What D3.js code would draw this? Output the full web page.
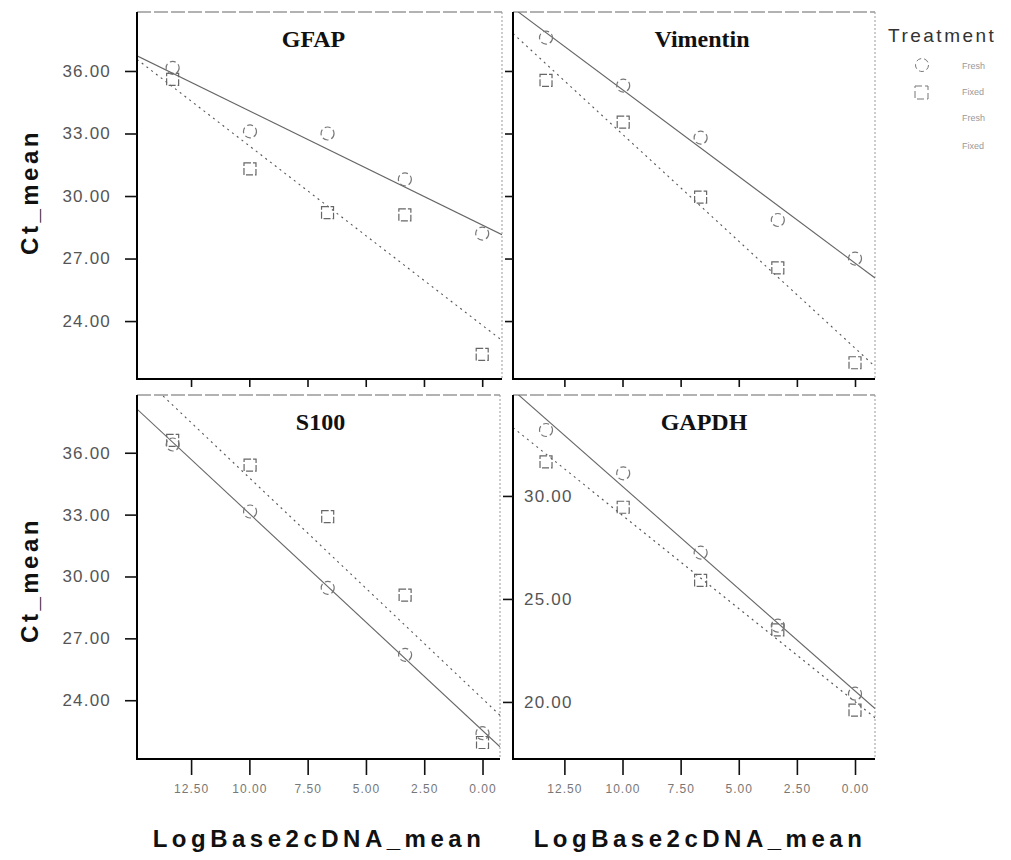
<!DOCTYPE html>
<html>
<head>
<meta charset="utf-8">
<script src="https://cdn.jsdelivr.net/npm/d3@7"></script>
<style>
  body { margin: 0; background: #fff; }
  text { font-family: "Liberation Sans", Arial, sans-serif; }
</style>
</head>
<body>
<svg width="1011" height="860"></svg>
<script>
// chart values
const genes = ["GFAP", "Vimentin", "S100", "GAPDH"];
const legendLabels = ["Fresh", "Fixed", "Fresh", "Fixed"];
const cdna = [13.29, 9.97, 6.64, 3.32, 0.00];          // LogBase2cDNA_mean
const xTicks = [12.5, 10, 7.5, 5, 2.5, 0];
const yTicksCt = [24, 27, 30, 33, 36];
const yTicksGapdh = [20, 25, 30];

// Ct_mean, circles (treatment 1) and squares (treatment 2)
const gfapA = [36.15, 33.1, 33.0, 30.8, 28.2];
const gfapB = [35.6, 31.3, 29.2, 29.1, 22.4];
const vimA = [37.6, 35.3, 32.8, 28.85, 27.0];
const vimB = [35.55, 33.55, 29.95, 26.55, 22.0];
const s100A = [36.4, 33.15, 29.45, 26.2, 22.4];
const s100B = [36.6, 35.4, 32.9, 29.1, 21.95];
const gapdhA = [33.2, 31.1, 27.25, 23.7, 20.4];
const gapdhB = [31.65, 29.45, 25.9, 23.5, 19.6];

const svg = d3.select("svg");

// panel layout
const panels = [
  { gene: genes[0], a: gfapA, b: gfapB, x0: 137, x1: 502, y0: 12, y1: 379,
    xd: [14.82, -0.85], yd: [21.22, 38.83], yt: yTicksCt, yMode: "left", xLabels: false, tdx: -6 },
  { gene: genes[1], a: vimA, b: vimB, x0: 513, x1: 875, y0: 12, y1: 379,
    xd: [14.71, -0.86], yd: [21.22, 38.83], yt: yTicksCt, yMode: "none", xLabels: false, tdx: 8 },
  { gene: genes[2], a: s100A, b: s100B, x0: 137, x1: 500, y0: 395, y1: 759,
    xd: [14.82, -0.75], yd: [21.15, 38.8], yt: yTicksCt, yMode: "left", xLabels: true, tdx: 2 },
  { gene: genes[3], a: gapdhA, b: gapdhB, x0: 513, x1: 875, y0: 395, y1: 759,
    xd: [14.71, -0.86], yd: [17.23, 34.9], yt: yTicksGapdh, yMode: "inside", xLabels: true, tdx: 10 }
];

// least squares fit
function fit(xs, ys) {
  const mx = d3.mean(xs), my = d3.mean(ys);
  const sxy = d3.sum(xs, (x, i) => (x - mx) * (ys[i] - my));
  const sxx = d3.sum(xs, x => (x - mx) * (x - mx));
  const slope = sxy / sxx;
  return x => my + slope * (x - mx);
}

panels.forEach((p, k) => {
  const x = d3.scaleLinear().domain(p.xd).range([p.x0, p.x1]);
  const y = d3.scaleLinear().domain(p.yd).range([p.y1, p.y0]);
  const g = svg.append("g");

  // clip for fit lines
  const clipId = "clip" + k;
  svg.append("clipPath").attr("id", clipId)
    .append("rect").attr("x", p.x0).attr("y", p.y0)
    .attr("width", p.x1 - p.x0).attr("height", p.y1 - p.y0);

  // top and right frame
  g.append("line").attr("x1", p.x0).attr("x2", p.x1).attr("y1", p.y0).attr("y2", p.y0)
    .attr("stroke", "#666").attr("stroke-width", 1.2).attr("stroke-dasharray", "14,3");
  g.append("line").attr("x1", p.x1).attr("x2", p.x1).attr("y1", p.y0).attr("y2", p.y1)
    .attr("stroke", "#999").attr("stroke-width", 1).attr("stroke-dasharray", "2,2");

  // title
  g.append("text").attr("x", (p.x0 + p.x1) / 2 + p.tdx).attr("y", p.y0 + 35)
    .attr("text-anchor", "middle")
    .style("font-family", "'Liberation Serif', 'Times New Roman', serif")
    .style("font-weight", "bold").style("font-size", "24px").attr("fill", "#111")
    .text(p.gene);

  // fit lines
  const series = [
    { v: p.a, dash: null, col: "#666" },
    { v: p.b, dash: "2,4", col: "#555" }
  ];
  series.forEach(s => {
    const f = fit(cdna, s.v);
    g.append("line").attr("clip-path", `url(#${clipId})`)
      .attr("x1", x(p.xd[0])).attr("y1", y(f(p.xd[0])))
      .attr("x2", x(p.xd[1])).attr("y2", y(f(p.xd[1])))
      .attr("stroke", s.col).attr("stroke-width", 1.1)
      .attr("stroke-dasharray", s.dash);
  });

  // markers
  g.selectAll(".sq").data(p.b).join("rect")
    .attr("x", (d, i) => x(cdna[i]) - 6).attr("y", d => y(d) - 6)
    .attr("width", 12).attr("height", 12)
    .attr("fill", "none").attr("stroke", "#666").attr("stroke-width", 1.2)
    .attr("stroke-dasharray", "7,2");
  g.selectAll(".ci").data(p.a).join("circle")
    .attr("cx", (d, i) => x(cdna[i])).attr("cy", d => y(d)).attr("r", 6.5)
    .attr("fill", "none").attr("stroke", "#777").attr("stroke-width", 1.2)
    .attr("stroke-dasharray", "6,3");

  // x axis
  const xa = d3.axisBottom(x).tickValues(xTicks)
    .tickSize(p.xLabels ? 15 : 7).tickPadding(9)
    .tickFormat(p.xLabels ? d3.format(".2f") : "");
  const gx = svg.append("g").attr("transform", `translate(0,${p.y1 + 1})`).call(xa);
  gx.select(".domain").remove();
  gx.selectAll("line").attr("stroke", "#111").attr("stroke-width", 1.6);
  gx.selectAll("text").attr("fill", "#777").style("font-size", "12px")
    .style("letter-spacing", "1px");

  // y axis
  const ya = d3.axisLeft(y).tickValues(p.yt);
  if (p.yMode === "left") {
    ya.tickSize(12).tickPadding(14).tickFormat(d3.format(".2f"));
  } else if (p.yMode === "inside") {
    ya.tickSize(10).tickFormat(d3.format(".2f"));
  } else {
    ya.tickSize(8).tickFormat("");
  }
  const gy = svg.append("g").attr("transform", `translate(${p.x0},0)`).call(ya);
  gy.select(".domain").remove();
  gy.selectAll("line").attr("stroke", "#111").attr("stroke-width", 1.6);
  gy.selectAll("text").attr("fill", "#555").style("font-size", "17px")
    .style("letter-spacing", "1.2px");
  if (p.yMode === "inside") {
    gy.selectAll("text").attr("x", 11).attr("text-anchor", "start");
  }

  // left and bottom axis lines
  g.append("line").attr("x1", p.x0).attr("x2", p.x0).attr("y1", p.y0).attr("y2", p.y1 + 1)
    .attr("stroke", "#000").attr("stroke-width", 2);
  g.append("line").attr("x1", p.x0).attr("x2", p.x1).attr("y1", p.y1).attr("y2", p.y1)
    .attr("stroke", "#000").attr("stroke-width", 2);
});

// axis titles
[192, 580].forEach(cy => {
  svg.append("text").attr("transform", `translate(38,${cy}) rotate(-90)`)
    .attr("text-anchor", "middle").style("font-weight", "bold")
    .style("font-size", "24px").style("letter-spacing", "3.5px").attr("fill", "#111")
    .text("Ct_mean");
});
[319, 700].forEach(cx => {
  svg.append("text").attr("x", cx).attr("y", 847)
    .attr("text-anchor", "middle").style("font-weight", "bold")
    .style("font-size", "24px").style("letter-spacing", "4.5px").attr("fill", "#111")
    .text("LogBase2cDNA_mean");
});

// legend
const leg = svg.append("g");
leg.append("text").attr("x", 888).attr("y", 42)
  .style("font-size", "19px").style("letter-spacing", "2.5px").attr("fill", "#333")
  .text("Treatment");
leg.append("circle").attr("cx", 922).attr("cy", 65).attr("r", 6.5)
  .attr("fill", "none").attr("stroke", "#777").attr("stroke-dasharray", "5,3");
leg.append("rect").attr("x", 915).attr("y", 86).attr("width", 13).attr("height", 13)
  .attr("fill", "none").attr("stroke", "#777").attr("stroke-dasharray", "7,3");
leg.selectAll(".lt").data(legendLabels).join("text")
  .attr("x", 962).attr("y", (d, i) => [69, 95, 121, 149][i])
  .style("font-size", "9px").attr("fill", "#999")
  .text(d => d);
</script>
</body>
</html>
